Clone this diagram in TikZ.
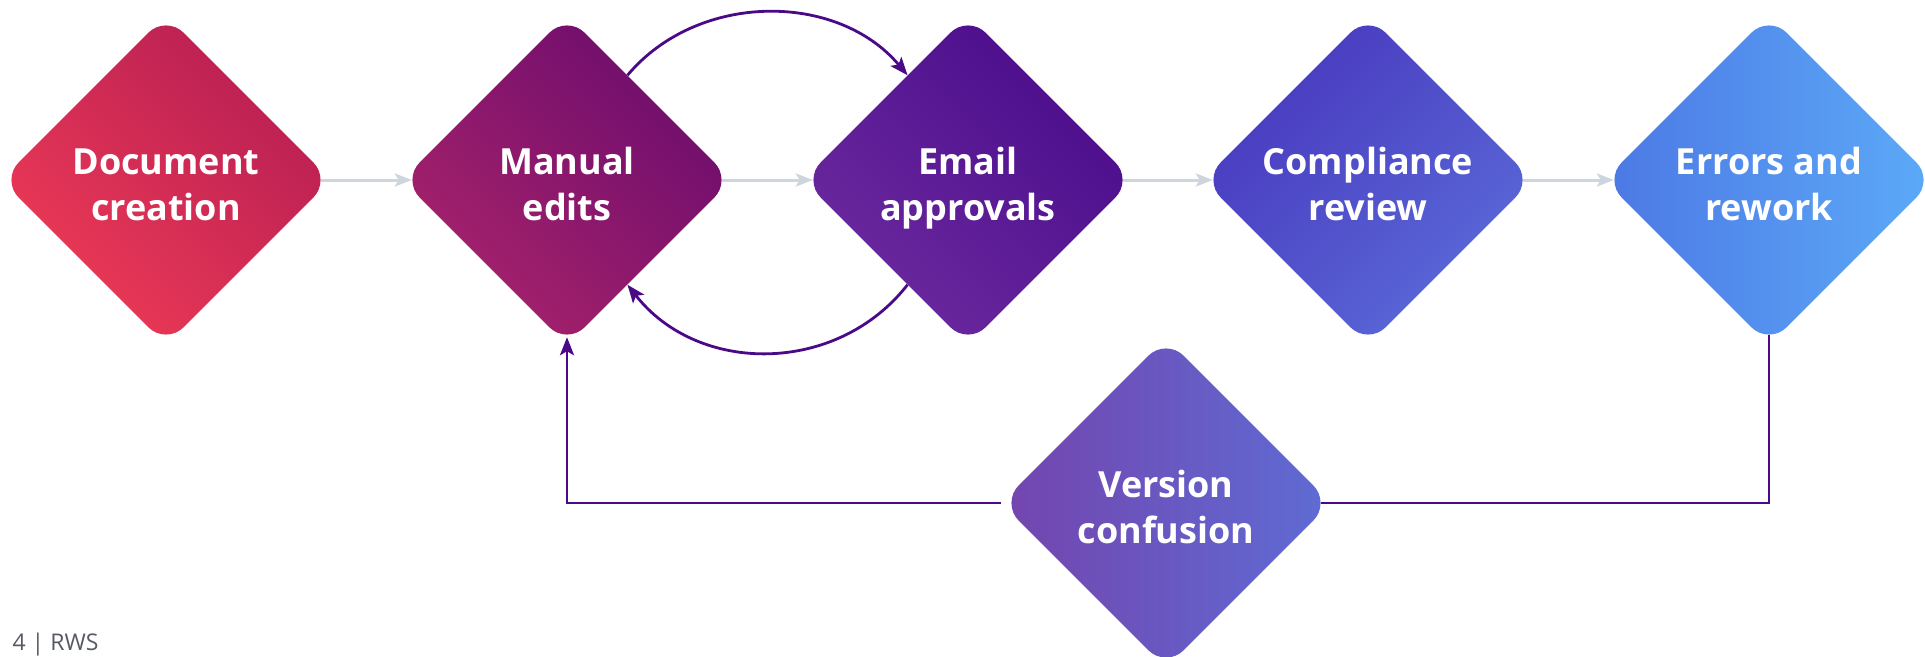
\documentclass[tikz,border=0pt]{standalone}
\usepackage{fontspec}
\setmainfont{Open Sans}
\usetikzlibrary{arrows.meta,shapes.geometric}
\definecolor{flowgray}{HTML}{CDD5DF}
\definecolor{loopviolet}{HTML}{4A0A88}
\definecolor{pagegray}{HTML}{555A64}
% gradient ends, light and dark, per step
\definecolor{docL}{HTML}{EE3A56}\definecolor{docD}{HTML}{B61E53}
\definecolor{manL}{HTML}{A8236A}\definecolor{manD}{HTML}{6C0C6E}
\definecolor{emaL}{HTML}{6C2A9E}\definecolor{emaD}{HTML}{4A0C8C}
\definecolor{comL}{HTML}{5A6AD8}\definecolor{comD}{HTML}{4838BE}
\definecolor{errL}{HTML}{5CAAF8}\definecolor{errD}{HTML}{4C78E4}
\definecolor{verL}{HTML}{5E6CD4}\definecolor{verD}{HTML}{7444AE}
\tikzset{
  stage/.style={diamond,minimum size=330pt,inner sep=0pt,rounded corners=25pt,
    text height=80pt,text depth=0pt,
    text=white,align=center,font=\bfseries\fontsize{36}{46}\selectfont},
  flow/.style={draw=flowgray,line width=3pt,-{Stealth[length=17pt,width=13pt,inset=4pt]},
    shorten <=-10pt,shorten >=-10pt},
  back/.style={draw=loopviolet,line width=2.8pt,-{Stealth[length=18pt,width=14pt,inset=4pt]}}
}
\begin{document}
\begin{tikzpicture}[x=1pt,y=1pt]
\useasboundingbox[fill=white] (0,0) rectangle (1925,-656);
\node[stage,top color=docL,bottom color=docD,shading angle=135] (d1) at (166,-180) {Document\\creation};
\node[stage,top color=manL,bottom color=manD,shading angle=135] (d2) at (567,-180) {Manual\\edits};
\node[stage,top color=emaL,bottom color=emaD,shading angle=135] (d3) at (968,-180) {Email\\approvals};
\node[stage,top color=comL,bottom color=comD,shading angle=-135] (d4) at (1368,-180) {Compliance\\review};
\node[stage,top color=errL,bottom color=errD,shading angle=-90] (d5) at (1769,-180) {Errors and\\rework};
\node[stage,top color=verL,bottom color=verD,shading angle=-90] (d6) at (1166,-503) {Version\\confusion};
\draw (d1) edge[flow] (d2);
\draw (d2) edge[flow] (d3);
\draw (d3) edge[flow] (d4);
\draw (d4) edge[flow] (d5);
\draw (d2.60) edge[back,out=50,in=130] (d3.120);
\draw (d3.-120) edge[back,out=-128,in=-52,looseness=1.05] (d2.-60);
\draw[back,-,shorten <=-10pt,shorten >=-10pt] (d5) |- (d6);
\draw[back,shorten >=-8pt] (d6) -| (d2);
\node[text=pagegray,anchor=west,font=\fontsize{23}{28}\selectfont] (pg) at (9,-645) {4 | RWS};
\end{tikzpicture}
\end{document}
